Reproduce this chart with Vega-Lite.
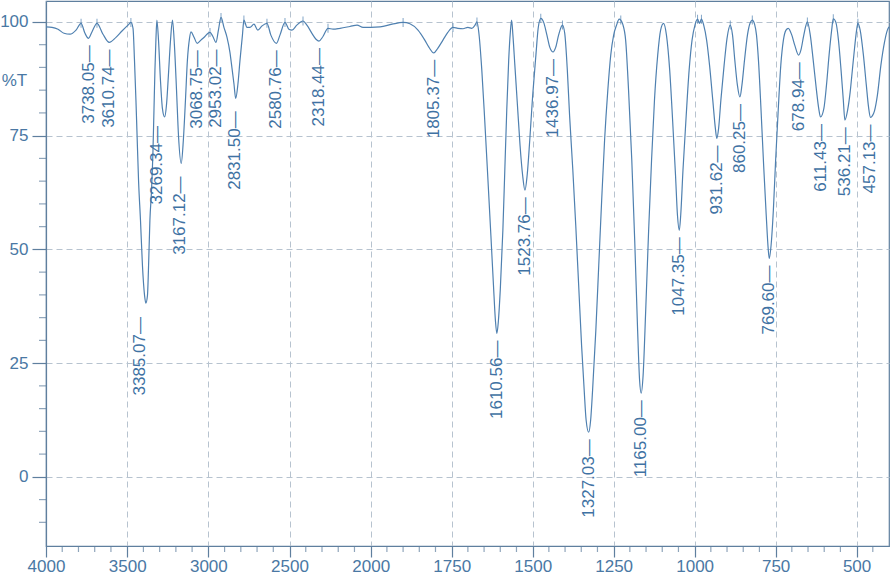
{
  "$schema": "https://vega.github.io/schema/vega-lite/v6.json",
  "width": 843,
  "height": 545,
  "autosize": {"type": "none"},
  "padding": {"left": 46, "top": 1, "right": 2, "bottom": 30},
  "background": "white",
  "config": {"view": {"stroke": "#5f7f9e", "strokeWidth": 1.2}, "font": "Liberation Sans"},
  "datasets": {
    "curve": [
      {"wn": 4000, "T": 98.9}, {"wn": 3963, "T": 98.8}, {"wn": 3926, "T": 98.4}, {"wn": 3889, "T": 97.5}, {"wn": 3852, "T": 97.3},
      {"wn": 3815, "T": 98.2}, {"wn": 3784, "T": 99.7}, {"wn": 3760, "T": 97.5}, {"wn": 3738.05, "T": 96.4}, {"wn": 3717, "T": 97.8},
      {"wn": 3686, "T": 99.7}, {"wn": 3649, "T": 97.3}, {"wn": 3610.74, "T": 95.5}, {"wn": 3569, "T": 96.6}, {"wn": 3532, "T": 98.0},
      {"wn": 3495, "T": 99.3}, {"wn": 3477, "T": 99.9}, {"wn": 3464, "T": 98.6}, {"wn": 3455, "T": 91.6}, {"wn": 3446, "T": 82.8},
      {"wn": 3440, "T": 76.2}, {"wn": 3430, "T": 65.2}, {"wn": 3418, "T": 56.4}, {"wn": 3406, "T": 46.5}, {"wn": 3393, "T": 39.9},
      {"wn": 3385.07, "T": 38.2}, {"wn": 3375, "T": 39.9}, {"wn": 3369, "T": 45.4}, {"wn": 3360, "T": 56.4}, {"wn": 3350, "T": 63.0},
      {"wn": 3341, "T": 71.8}, {"wn": 3335, "T": 80.6}, {"wn": 3329, "T": 89.4}, {"wn": 3323, "T": 96.0}, {"wn": 3317, "T": 100.4},
      {"wn": 3307, "T": 96.0}, {"wn": 3295, "T": 87.2}, {"wn": 3283, "T": 81.0}, {"wn": 3269.34, "T": 79.1}, {"wn": 3258, "T": 81.7},
      {"wn": 3246, "T": 88.3}, {"wn": 3233, "T": 96.0}, {"wn": 3221, "T": 100.4}, {"wn": 3209, "T": 94.9}, {"wn": 3196, "T": 85.0},
      {"wn": 3184, "T": 75.1}, {"wn": 3167.12, "T": 68.9}, {"wn": 3154, "T": 74.0}, {"wn": 3141, "T": 82.8}, {"wn": 3129, "T": 91.6},
      {"wn": 3116, "T": 96.4}, {"wn": 3107, "T": 97.8}, {"wn": 3089, "T": 96.7}, {"wn": 3068.75, "T": 95.3}, {"wn": 3046, "T": 96.0},
      {"wn": 3021, "T": 96.8}, {"wn": 3002, "T": 97.5}, {"wn": 2990, "T": 97.7}, {"wn": 2972, "T": 96.8}, {"wn": 2953.02, "T": 95.5},
      {"wn": 2938, "T": 98.2}, {"wn": 2922, "T": 101.0}, {"wn": 2904, "T": 98.8}, {"wn": 2885, "T": 96.6}, {"wn": 2867, "T": 93.3},
      {"wn": 2855, "T": 90.0}, {"wn": 2842, "T": 86.3}, {"wn": 2831.5, "T": 83.2}, {"wn": 2818, "T": 86.3}, {"wn": 2805, "T": 91.6},
      {"wn": 2790, "T": 97.1}, {"wn": 2781, "T": 100.4}, {"wn": 2762, "T": 98.8}, {"wn": 2744, "T": 98.8}, {"wn": 2719, "T": 99.5},
      {"wn": 2695, "T": 98.2}, {"wn": 2670, "T": 99.1}, {"wn": 2639, "T": 99.7}, {"wn": 2615, "T": 97.1}, {"wn": 2580.76, "T": 95.3},
      {"wn": 2559, "T": 97.1}, {"wn": 2528, "T": 99.9}, {"wn": 2504, "T": 98.4}, {"wn": 2485, "T": 98.2}, {"wn": 2455, "T": 99.3},
      {"wn": 2417, "T": 100.2}, {"wn": 2393, "T": 99.3}, {"wn": 2362, "T": 97.5}, {"wn": 2337, "T": 96.2}, {"wn": 2318.44, "T": 95.8},
      {"wn": 2294, "T": 96.8}, {"wn": 2263, "T": 98.6}, {"wn": 2232, "T": 98.4}, {"wn": 2189, "T": 98.6}, {"wn": 2128, "T": 99.0},
      {"wn": 2084, "T": 99.3}, {"wn": 2047, "T": 98.8}, {"wn": 2000, "T": 98.8},
      {"wn": 1971, "T": 98.9}, {"wn": 1934, "T": 99.5}, {"wn": 1900, "T": 99.9}, {"wn": 1879, "T": 99.6}, {"wn": 1854, "T": 98.2},
      {"wn": 1833, "T": 96.0}, {"wn": 1820, "T": 94.4}, {"wn": 1805.37, "T": 93.2}, {"wn": 1793, "T": 94.2}, {"wn": 1777, "T": 96.0},
      {"wn": 1762, "T": 97.7}, {"wn": 1746, "T": 98.8}, {"wn": 1731, "T": 98.6}, {"wn": 1715, "T": 98.5}, {"wn": 1700, "T": 98.8},
      {"wn": 1688, "T": 98.6}, {"wn": 1678, "T": 99.3}, {"wn": 1672, "T": 100.0}, {"wn": 1666, "T": 97.5}, {"wn": 1657, "T": 89.4},
      {"wn": 1648, "T": 78.4}, {"wn": 1638, "T": 65.2}, {"wn": 1629, "T": 53.1}, {"wn": 1621, "T": 42.1}, {"wn": 1615, "T": 34.4},
      {"wn": 1610.56, "T": 31.5}, {"wn": 1606, "T": 34.1}, {"wn": 1600, "T": 41.1}, {"wn": 1592, "T": 54.2}, {"wn": 1586, "T": 67.4},
      {"wn": 1580, "T": 80.6}, {"wn": 1574, "T": 91.6}, {"wn": 1569, "T": 97.7}, {"wn": 1565, "T": 100.4}, {"wn": 1561, "T": 97.1},
      {"wn": 1555, "T": 90.5}, {"wn": 1547, "T": 81.7}, {"wn": 1539, "T": 72.9}, {"wn": 1531, "T": 66.3}, {"wn": 1523.76, "T": 63.0},
      {"wn": 1517, "T": 66.3}, {"wn": 1509, "T": 74.0}, {"wn": 1500, "T": 83.8}, {"wn": 1490, "T": 92.7}, {"wn": 1483, "T": 98.6},
      {"wn": 1475, "T": 100.8}, {"wn": 1466, "T": 99.9}, {"wn": 1456, "T": 97.1}, {"wn": 1447, "T": 94.4}, {"wn": 1436.97, "T": 93.4},
      {"wn": 1429, "T": 94.4}, {"wn": 1420, "T": 97.1}, {"wn": 1408, "T": 99.3}, {"wn": 1401, "T": 97.5}, {"wn": 1393, "T": 89.4},
      {"wn": 1386, "T": 79.4}, {"wn": 1376, "T": 67.4}, {"wn": 1367, "T": 55.3}, {"wn": 1358, "T": 42.1}, {"wn": 1349, "T": 28.9},
      {"wn": 1341, "T": 19.1}, {"wn": 1335, "T": 12.5}, {"wn": 1327.03, "T": 9.8}, {"wn": 1321, "T": 12.5}, {"wn": 1315, "T": 19.1},
      {"wn": 1305, "T": 32.2}, {"wn": 1296, "T": 46.5}, {"wn": 1287, "T": 60.8}, {"wn": 1278, "T": 74.0}, {"wn": 1268, "T": 85.0},
      {"wn": 1259, "T": 92.7}, {"wn": 1250, "T": 97.1}, {"wn": 1241, "T": 99.3}, {"wn": 1233, "T": 100.6}, {"wn": 1228, "T": 100.4},
      {"wn": 1222, "T": 99.5}, {"wn": 1213, "T": 96.0}, {"wn": 1204, "T": 85.0}, {"wn": 1194, "T": 69.6}, {"wn": 1185, "T": 52.0},
      {"wn": 1176, "T": 32.2}, {"wn": 1170, "T": 21.3}, {"wn": 1165.0, "T": 18.4}, {"wn": 1159, "T": 22.4}, {"wn": 1151, "T": 36.7},
      {"wn": 1142, "T": 54.2}, {"wn": 1133, "T": 69.6}, {"wn": 1124, "T": 82.8}, {"wn": 1114, "T": 92.7}, {"wn": 1105, "T": 98.2},
      {"wn": 1096, "T": 99.7}, {"wn": 1087, "T": 97.1}, {"wn": 1077, "T": 89.4}, {"wn": 1068, "T": 78.4}, {"wn": 1059, "T": 66.3},
      {"wn": 1053, "T": 57.5}, {"wn": 1047.35, "T": 54.2}, {"wn": 1043, "T": 57.5}, {"wn": 1036, "T": 67.4}, {"wn": 1026, "T": 79.5},
      {"wn": 1017, "T": 89.4}, {"wn": 1008, "T": 96.0}, {"wn": 999, "T": 99.3}, {"wn": 991, "T": 100.6}, {"wn": 985, "T": 99.7},
      {"wn": 979, "T": 100.6}, {"wn": 972, "T": 99.3}, {"wn": 963, "T": 96.0}, {"wn": 954, "T": 90.5}, {"wn": 944, "T": 82.8},
      {"wn": 936, "T": 76.6}, {"wn": 931.62, "T": 74.4}, {"wn": 926, "T": 76.6}, {"wn": 919, "T": 82.8}, {"wn": 909, "T": 90.5},
      {"wn": 900, "T": 96.4}, {"wn": 890, "T": 99.3}, {"wn": 883, "T": 97.1}, {"wn": 876, "T": 91.6}, {"wn": 868, "T": 86.1},
      {"wn": 860.25, "T": 83.5}, {"wn": 854, "T": 86.1}, {"wn": 846, "T": 91.6}, {"wn": 837, "T": 97.1}, {"wn": 829, "T": 99.7},
      {"wn": 822, "T": 100.4}, {"wn": 815, "T": 99.5}, {"wn": 809, "T": 97.1}, {"wn": 803, "T": 91.6}, {"wn": 795, "T": 80.6},
      {"wn": 787, "T": 68.5}, {"wn": 779, "T": 57.5}, {"wn": 773, "T": 50.2}, {"wn": 769.6, "T": 48.0}, {"wn": 764, "T": 50.9},
      {"wn": 757, "T": 58.6}, {"wn": 750, "T": 69.6}, {"wn": 742, "T": 80.6}, {"wn": 734, "T": 90.5}, {"wn": 726, "T": 96.0},
      {"wn": 718, "T": 98.2}, {"wn": 711, "T": 98.6}, {"wn": 700, "T": 97.1}, {"wn": 691, "T": 94.9}, {"wn": 678.94, "T": 92.7},
      {"wn": 672, "T": 93.8}, {"wn": 663, "T": 97.1}, {"wn": 652, "T": 100.0}, {"wn": 643, "T": 97.1}, {"wn": 634, "T": 91.6},
      {"wn": 624, "T": 85.0}, {"wn": 617, "T": 81.0}, {"wn": 611.43, "T": 79.1}, {"wn": 601, "T": 81.0}, {"wn": 593, "T": 86.1},
      {"wn": 585, "T": 92.7}, {"wn": 577, "T": 98.2}, {"wn": 572, "T": 100.7}, {"wn": 564, "T": 99.9}, {"wn": 556, "T": 96.0},
      {"wn": 548, "T": 89.4}, {"wn": 541, "T": 82.8}, {"wn": 536.21, "T": 78.4}, {"wn": 528, "T": 80.5}, {"wn": 520, "T": 84.5},
      {"wn": 513, "T": 89.5}, {"wn": 506, "T": 94.5}, {"wn": 500, "T": 98.2}, {"wn": 496, "T": 99.7}, {"wn": 489, "T": 98.2},
      {"wn": 479, "T": 92.7}, {"wn": 470, "T": 86.1}, {"wn": 463, "T": 81.2}, {"wn": 457.13, "T": 79.0}, {"wn": 451, "T": 79.4},
      {"wn": 445, "T": 80.4}, {"wn": 436, "T": 83.8}, {"wn": 425, "T": 90.5}, {"wn": 414, "T": 95.5}, {"wn": 405, "T": 98.2},
      {"wn": 400, "T": 98.9}
    ],
    "peaks": [
      {"wn": 3738.05, "T": 96.4}, {"wn": 3610.74, "T": 95.5}, {"wn": 3385.07, "T": 38.2}, {"wn": 3269.34, "T": 79.1},
      {"wn": 3167.12, "T": 68.9}, {"wn": 3068.75, "T": 95.3}, {"wn": 2953.02, "T": 95.5}, {"wn": 2831.5, "T": 83.2},
      {"wn": 2580.76, "T": 95.3}, {"wn": 2318.44, "T": 95.8}, {"wn": 1805.37, "T": 93.2}, {"wn": 1610.56, "T": 31.5},
      {"wn": 1523.76, "T": 63.0}, {"wn": 1436.97, "T": 93.4}, {"wn": 1327.03, "T": 9.8}, {"wn": 1165.0, "T": 18.4},
      {"wn": 1047.35, "T": 54.2}, {"wn": 931.62, "T": 74.4}, {"wn": 860.25, "T": 83.5}, {"wn": 769.6, "T": 48.0},
      {"wn": 678.94, "T": 92.7}, {"wn": 611.43, "T": 79.1}, {"wn": 536.21, "T": 78.4}, {"wn": 457.13, "T": 79.0}
    ],
    "markers": [
      {"wn": 3784, "T": 99.7}, {"wn": 3686, "T": 99.7}, {"wn": 3477, "T": 99.9}, {"wn": 2990, "T": 97.7},
      {"wn": 2922, "T": 101.0}, {"wn": 2781, "T": 100.4}, {"wn": 2639, "T": 99.7}, {"wn": 2528, "T": 99.9},
      {"wn": 2417, "T": 100.2}, {"wn": 2263, "T": 98.6}, {"wn": 1900, "T": 99.9}, {"wn": 1746, "T": 98.8},
      {"wn": 1672, "T": 100.0}, {"wn": 1475, "T": 100.8}, {"wn": 1408, "T": 99.3}, {"wn": 1228, "T": 100.4},
      {"wn": 991, "T": 100.6}, {"wn": 979, "T": 100.6}, {"wn": 890, "T": 99.3}, {"wn": 822, "T": 100.4},
      {"wn": 652, "T": 100.0}, {"wn": 572, "T": 100.7}, {"wn": 496, "T": 99.7}
    ],
    "minorX": [
      {"v": 3900}, {"v": 3800}, {"v": 3700}, {"v": 3600}, {"v": 3400}, {"v": 3300}, {"v": 3200}, {"v": 3100},
      {"v": 2900}, {"v": 2800}, {"v": 2700}, {"v": 2600}, {"v": 2400}, {"v": 2300}, {"v": 2200}, {"v": 2100},
      {"v": 1950}, {"v": 1900}, {"v": 1850}, {"v": 1800}, {"v": 1700}, {"v": 1650}, {"v": 1600}, {"v": 1550},
      {"v": 1450}, {"v": 1400}, {"v": 1350}, {"v": 1300}, {"v": 1200}, {"v": 1150}, {"v": 1100}, {"v": 1050},
      {"v": 950}, {"v": 900}, {"v": 850}, {"v": 800}, {"v": 700}, {"v": 650}, {"v": 600}, {"v": 550}, {"v": 450}
    ],
    "minorY": [
      {"v": -10}, {"v": -5}, {"v": 5}, {"v": 10}, {"v": 15}, {"v": 20}, {"v": 30}, {"v": 35}, {"v": 40},
      {"v": 45}, {"v": 55}, {"v": 60}, {"v": 65}, {"v": 70}, {"v": 80}, {"v": 85}, {"v": 90}, {"v": 95}
    ]
  },
  "layer": [
    {
      "data": {"name": "curve"},
      "mark": {"type": "line", "color": "#4f80b0", "strokeWidth": 1.2, "interpolate": "monotone"},
      "encoding": {
        "x": {
          "field": "wn", "type": "quantitative",
          "scale": {"type": "linear", "domain": [4000, 2000, 400], "range": [0, 324.7, 843], "nice": false, "zero": false},
          "axis": {
            "values": [4000, 3500, 3000, 2500, 2000, 1750, 1500, 1250, 1000, 750, 500], "format": "d",
            "title": null, "grid": true, "gridDash": [6, 4], "gridColor": "#b7c3cf", "gridWidth": 1,
            "domainColor": "#5f7f9e", "domainWidth": 1.2, "tickColor": "#5f7f9e", "tickSize": 11, "tickWidth": 1.2,
            "labelFontSize": 17, "labelColor": "#4a78a4", "labelPadding": 1, "labelFlush": false, "labelOverlap": false,
            "labelFont": "Liberation Sans"
          }
        },
        "y": {
          "field": "T", "type": "quantitative",
          "scale": {"domain": [-15.2, 104.6], "nice": false, "zero": false},
          "axis": {
            "values": [0, 25, 50, 75, 100],
            "grid": true, "gridDash": [6, 4], "gridColor": "#b7c3cf", "gridWidth": 1,
            "domainColor": "#5f7f9e", "domainWidth": 1.2, "tickColor": "#5f7f9e", "tickSize": 14, "tickWidth": 1.2,
            "labelFontSize": 17, "labelColor": "#4a78a4", "labelPadding": 4, "labelFont": "Liberation Sans",
            "title": "%T", "titleAngle": 0, "titleX": -32, "titleY": 79, "titleAlign": "center", "titleBaseline": "middle",
            "titleFontSize": 17, "titleFontWeight": "normal", "titleColor": "#4a78a4", "titleFont": "Liberation Sans"
          }
        }
      }
    },
    {
      "mark": {"type": "rule", "color": "#5f7f9e", "strokeWidth": 1.2},
      "encoding": {"x": {"datum": 2000, "type": "quantitative"}}
    },
    {
      "data": {"name": "minorX"},
      "mark": {"type": "tick", "orient": "vertical", "color": "#5f7f9e", "size": 6, "thickness": 1.2, "yOffset": 3, "clip": false},
      "encoding": {
        "x": {"field": "v", "type": "quantitative"},
        "y": {"datum": -15.2, "type": "quantitative"}
      }
    },
    {
      "data": {"name": "minorY"},
      "mark": {"type": "tick", "orient": "horizontal", "color": "#5f7f9e", "size": 7, "thickness": 1.2, "xOffset": -3.5, "clip": false},
      "encoding": {
        "x": {"datum": 4000, "type": "quantitative"},
        "y": {"field": "v", "type": "quantitative"}
      }
    },
    {
      "data": {"name": "markers"},
      "mark": {"type": "tick", "orient": "vertical", "color": "#4f80b0", "size": 9, "thickness": 1},
      "encoding": {
        "x": {"field": "wn", "type": "quantitative"},
        "y": {"field": "T", "type": "quantitative"}
      }
    },
    {
      "data": {"name": "peaks"},
      "transform": [
        {"filter": "datum.wn != 3385.07 && datum.wn != 3269.34 && datum.wn != 3167.12 && datum.wn != 2831.5"},
        {"calculate": "format(datum.wn, '.2f') + '—'", "as": "lab"}
      ],
      "mark": {"type": "text", "angle": 270, "align": "right", "baseline": "middle", "dx": -7, "fontSize": 17, "color": "#3f72a3", "font": "Liberation Sans"},
      "encoding": {
        "x": {"field": "wn", "type": "quantitative"},
        "y": {"field": "T", "type": "quantitative"},
        "text": {"field": "lab"}
      }
    },
    {
      "data": {"name": "peaks"},
      "transform": [
        {"filter": "datum.wn == 3167.12 || datum.wn == 2831.5"},
        {"calculate": "format(datum.wn, '.2f') + '—'", "as": "lab"}
      ],
      "mark": {"type": "text", "angle": 270, "align": "right", "baseline": "middle", "dx": -13, "dy": -1, "fontSize": 17, "color": "#3f72a3", "font": "Liberation Sans"},
      "encoding": {
        "x": {"field": "wn", "type": "quantitative"},
        "y": {"field": "T", "type": "quantitative"},
        "text": {"field": "lab"}
      }
    },
    {
      "data": {"name": "peaks"},
      "transform": [
        {"filter": "datum.wn == 3385.07"},
        {"calculate": "format(datum.wn, '.2f') + '—'", "as": "lab"}
      ],
      "mark": {"type": "text", "angle": 270, "align": "right", "baseline": "middle", "dx": -14, "dy": -6, "fontSize": 17, "color": "#3f72a3", "font": "Liberation Sans"},
      "encoding": {
        "x": {"field": "wn", "type": "quantitative"},
        "y": {"field": "T", "type": "quantitative"},
        "text": {"field": "lab"}
      }
    },
    {
      "data": {"name": "peaks"},
      "transform": [
        {"filter": "datum.wn == 3269.34"},
        {"calculate": "format(datum.wn, '.2f') + '—'", "as": "lab"}
      ],
      "mark": {"type": "text", "angle": 270, "align": "right", "baseline": "middle", "dx": -9, "dy": -8, "fontSize": 17, "color": "#3f72a3", "font": "Liberation Sans"},
      "encoding": {
        "x": {"field": "wn", "type": "quantitative"},
        "y": {"field": "T", "type": "quantitative"},
        "text": {"field": "lab"}
      }
    }
  ]
}
